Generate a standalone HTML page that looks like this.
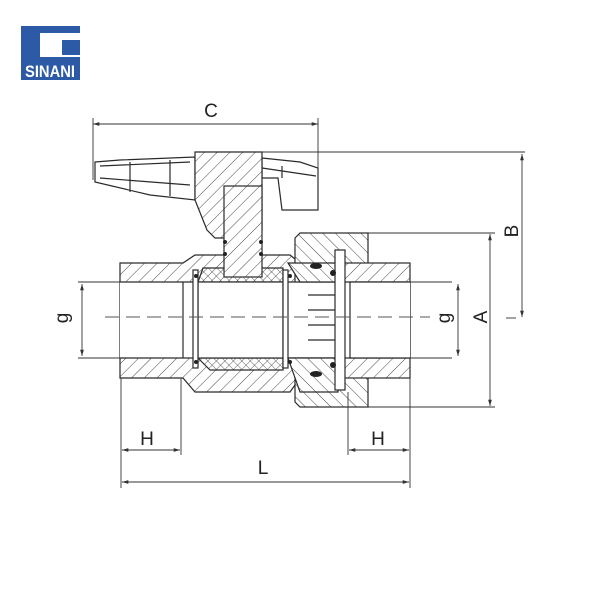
<!DOCTYPE html>
<html><head><style>
html,body{margin:0;padding:0;background:#fff;width:600px;height:600px;overflow:hidden}
svg{display:block}
text{font-family:"Liberation Sans",sans-serif;fill:#222}
</style></head><body>
<svg width="600" height="600" viewBox="0 0 600 600" xmlns="http://www.w3.org/2000/svg">
<defs>
<pattern id="h" width="9" height="9" patternUnits="userSpaceOnUse" patternTransform="rotate(45)">
<rect width="9" height="9" fill="#fff"/><line x1="0" y1="0" x2="0" y2="9" stroke="#333" stroke-width="0.9"/></pattern>
<pattern id="h2" width="9" height="9" patternUnits="userSpaceOnUse" patternTransform="rotate(-45)">
<rect width="9" height="9" fill="#fff"/><line x1="0" y1="0" x2="0" y2="9" stroke="#333" stroke-width="0.9"/></pattern>
<pattern id="x" width="6" height="6" patternUnits="userSpaceOnUse" patternTransform="rotate(45)">
<rect width="6" height="6" fill="#fff"/><path d="M0 0V6M0 0H6" stroke="#333" stroke-width="0.8"/></pattern>
<marker id="a" viewBox="0 0 10 10" refX="10" refY="5" markerWidth="7" markerHeight="7" orient="auto-start-reverse"><path d="M0 2L10 5L0 8z" fill="#333"/></marker>
</defs>

<!-- logo -->
<rect x="21" y="26" width="59" height="54" fill="#2c5aa6"/>
<rect x="40" y="33" width="40" height="24" fill="#fff"/>
<rect x="62" y="40" width="18" height="15" fill="#2c5aa6"/>
<text x="50" y="77" font-size="17" font-weight="bold" text-anchor="middle" style="fill:#fff" textLength="50" lengthAdjust="spacingAndGlyphs">SINANI</text>

<g stroke="#2a2a2a" stroke-width="1.2" fill="none">
<!-- handle lever -->
<path d="M95 162 L120 160 L195 157 L195 200 L150 195 L95 182 Z" fill="#fff"/>
<path d="M100 166 L190 162 M100 178 L190 185 M130 162 L130 192 M170 160 L170 196"/>
<path d="M262 158 L300 162 L318 168 L318 210 L282 210 L278 178 L262 178 Z" fill="#fff"/>
<path d="M262 168 L316 176 M282 166 L282 178"/>
<!-- hub -->
<path d="M195 152 L262 152 L262 230 L250 238 L215 238 L207 230 L195 200 Z" fill="url(#h)"/>
<!-- body -->
<path d="M120 263 L183 263 L195 255 L290 255 L300 263 L350 263 L350 378 L300 378 L290 392 L195 392 L183 378 L120 378 Z" fill="url(#h)"/>
<!-- union nut -->
<path d="M295 238 L300 233 L368 233 L368 407 L300 407 L295 402 Z" fill="url(#h2)"/>
<!-- right pipe -->
<rect x="338" y="263" width="72" height="115" fill="url(#h)"/>
<rect x="350" y="282" width="60" height="76" fill="#fff"/>
<!-- bore -->
<rect x="120" y="282" width="290" height="76" fill="#fff" stroke="none"/>
<line x1="120" y1="282" x2="410" y2="282"/><line x1="120" y1="358" x2="410" y2="358"/>
<line x1="183" y1="282" x2="183" y2="358"/><line x1="350" y1="282" x2="350" y2="358"/>
<!-- ball -->
<path d="M203 268 L283 268 L283 282 L198 282 Z" fill="url(#x)"/>
<path d="M198 358 L283 358 L283 370 L210 370 Z" fill="url(#x)"/>
<rect x="198" y="282" width="85" height="76" fill="#fff"/>
<!-- seats -->
<rect x="193" y="270" width="5" height="98" fill="#fff"/>
<rect x="283" y="270" width="5" height="98" fill="#fff"/>
<!-- carrier -->
<path d="M288 263 L338 263 L338 282 L300 282 Z" fill="url(#h2)"/>
<path d="M288 358 L338 358 L338 392 L300 392 Z" fill="url(#h2)"/>
<rect x="335" y="250" width="10" height="140" fill="#fff"/>
<path d="M308 295 H335 M308 310 H335 M308 325 H335 M308 340 H335"/>
<!-- stem -->
<rect x="224" y="186" width="38" height="91" fill="url(#h)"/>
<!-- orings -->
<g fill="#222" stroke="none">
<ellipse cx="316" cy="266" rx="6" ry="3"/><ellipse cx="316" cy="374" rx="6" ry="3"/>
<circle cx="333" cy="273" r="3"/><circle cx="333" cy="365" r="3"/>
<circle cx="225" cy="242" r="2"/><circle cx="225" cy="254" r="2"/>
<circle cx="261" cy="242" r="2"/><circle cx="261" cy="254" r="2"/>
<circle cx="196" cy="276" r="2"/><circle cx="196" cy="362" r="2"/>
<circle cx="290" cy="276" r="2"/><circle cx="290" cy="362" r="2"/>
</g>
</g>

<!-- centerline -->
<line x1="105" y1="317" x2="430" y2="317" stroke="#555" stroke-width="1" stroke-dasharray="14,7"/>

<!-- dimensions -->
<g stroke="#333" stroke-width="0.9" fill="none">
<line x1="93" y1="124" x2="318" y2="124" marker-start="url(#a)" marker-end="url(#a)"/>
<line x1="93" y1="118" x2="93" y2="180"/><line x1="318" y1="118" x2="318" y2="210"/>
<line x1="262" y1="152" x2="525" y2="152"/>
<line x1="522" y1="154" x2="522" y2="317" marker-start="url(#a)" marker-end="url(#a)"/>
<line x1="506" y1="318" x2="516" y2="318"/>
<line x1="307" y1="233" x2="495" y2="233"/><line x1="307" y1="407" x2="495" y2="407"/>
<line x1="490" y1="234" x2="490" y2="406" marker-start="url(#a)" marker-end="url(#a)"/>
<line x1="410" y1="282" x2="452" y2="282"/><line x1="410" y1="358" x2="452" y2="358"/>
<line x1="458" y1="284" x2="458" y2="356" marker-start="url(#a)" marker-end="url(#a)"/>
<line x1="78" y1="282" x2="120" y2="282"/><line x1="78" y1="358" x2="120" y2="358"/>
<line x1="82" y1="284" x2="82" y2="356" marker-start="url(#a)" marker-end="url(#a)"/>
<line x1="121" y1="378" x2="121" y2="488"/><line x1="181" y1="378" x2="181" y2="455"/>
<line x1="348" y1="392" x2="348" y2="455"/><line x1="410" y1="378" x2="410" y2="488"/>
<line x1="122" y1="450" x2="180" y2="450" marker-start="url(#a)" marker-end="url(#a)"/>
<line x1="349" y1="450" x2="409" y2="450" marker-start="url(#a)" marker-end="url(#a)"/>
<line x1="122" y1="482" x2="409" y2="482" marker-start="url(#a)" marker-end="url(#a)"/>
</g>
<text x="211" y="117" font-size="19" text-anchor="middle">C</text>
<text x="147" y="445" font-size="19" text-anchor="middle">H</text>
<text x="378" y="445" font-size="19" text-anchor="middle">H</text>
<text x="263" y="474" font-size="19" text-anchor="middle">L</text>
<text transform="translate(518,231) rotate(-90)" font-size="19" text-anchor="middle">B</text>
<text transform="translate(487,317) rotate(-90)" font-size="19" text-anchor="middle">A</text>
<text transform="translate(450,318) rotate(-90)" font-size="19" text-anchor="middle">g</text>
<text transform="translate(68,318) rotate(-90)" font-size="19" text-anchor="middle">g</text>
</svg>
</body></html>
